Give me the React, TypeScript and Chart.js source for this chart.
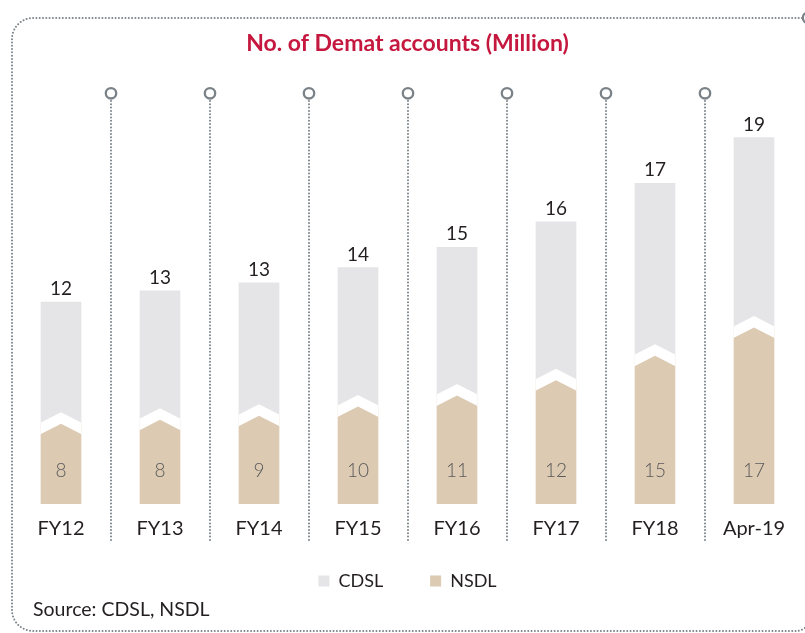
import React, { useEffect, useRef } from "react";
import { Chart, registerables } from "chart.js";

Chart.register(...registerables);

const categories = ["FY12", "FY13", "FY14", "FY15", "FY16", "FY17", "FY18", "Apr-19"];
const nsdlValues = [7.9, 8.3, 8.7, 9.6, 10.7, 12.2, 14.6, 17.4];
const cdslValues = [12.0, 12.7, 13.1, 13.7, 14.6, 15.6, 17.0, 18.7];
const seriesNames = ["NSDL", "CDSL"];
const titleText = "No. of Demat accounts (Million)";
const sourceText = "Source: CDSL, NSDL";

const FONT = "Lato, 'Open Sans', sans-serif";
const DOT_COLOR = "#7a8288";
const TEXT_COLOR = "#231f20";

function dotted(ctx: CanvasRenderingContext2D) {
  ctx.setLineDash([0, 3.3]);
  ctx.lineCap = "round";
  ctx.lineWidth = 2;
  ctx.strokeStyle = DOT_COLOR;
}

const decorPlugin = {
  id: "decor",
  beforeDatasetsDraw(chart: any) {
    const ctx: CanvasRenderingContext2D = chart.ctx;
    const xs = chart.scales.x;
    ctx.save();
    // outer dotted frame
    dotted(ctx);
    ctx.beginPath();
    ctx.moveTo(802, 18);
    ctx.lineTo(33, 18);
    ctx.arcTo(12, 18, 12, 40, 21);
    ctx.lineTo(12, 610);
    ctx.arcTo(12, 631, 33, 631, 21);
    ctx.lineTo(792, 631);
    ctx.arcTo(810, 631, 810, 612, 14);
    ctx.stroke();
    // separators
    for (let i = 0; i < categories.length - 1; i++) {
      const x = Math.round((xs.getPixelForValue(i) + xs.getPixelForValue(i + 1)) / 2);
      dotted(ctx);
      ctx.beginPath();
      ctx.moveTo(x, 101);
      ctx.lineTo(x, 540);
      ctx.stroke();
      ctx.setLineDash([]);
      ctx.lineWidth = 2.3;
      ctx.beginPath();
      ctx.arc(x, 93.3, 5.2, 0, Math.PI * 2);
      ctx.stroke();
    }
    ctx.setLineDash([]);
    ctx.lineWidth = 2.3;
    ctx.beginPath();
    ctx.arc(808, 17.8, 5.2, 0, Math.PI * 2);
    ctx.stroke();
    ctx.restore();
  },
  afterDatasetsDraw(chart: any) {
    const ctx: CanvasRenderingContext2D = chart.ctx;
    const nsdlMeta = chart.getDatasetMeta(0);
    const cdslMeta = chart.getDatasetMeta(1);
    ctx.save();
    nsdlMeta.data.forEach((el: any, i: number) => {
      const { x, y, width, base } = el.getProps(["x", "y", "width", "base"], true);
      const L = x - width / 2 - 0.5;
      const R = x + width / 2 + 0.5;
      ctx.fillStyle = "#ffffff";
      ctx.beginPath();
      ctx.moveTo(L, y - 1);
      ctx.lineTo(x, y - 11.5);
      ctx.lineTo(R, y - 1);
      ctx.lineTo(R, y + 10.5);
      ctx.lineTo(x, y);
      ctx.lineTo(L, y + 10.5);
      ctx.closePath();
      ctx.fill();
      // NSDL value inside
      ctx.font = `300 19px ${FONT}`;
      ctx.fillStyle = "#5a5a5a";
      ctx.textAlign = "center";
      ctx.textBaseline = "alphabetic";
      ctx.fillText(String(Math.round(nsdlValues[i])), x, base - 27);
    });
    cdslMeta.data.forEach((el: any, i: number) => {
      const { x, y } = el.getProps(["x", "y"], true);
      ctx.font = `19px ${FONT}`;
      ctx.fillStyle = TEXT_COLOR;
      ctx.textAlign = "center";
      ctx.textBaseline = "alphabetic";
      ctx.fillText(String(Math.round(cdslValues[i])), x, y - 7);
    });
    ctx.restore();
  },
  afterDraw(chart: any) {
    const ctx: CanvasRenderingContext2D = chart.ctx;
    ctx.save();
    ctx.font = `19.5px ${FONT}`;
    ctx.fillStyle = TEXT_COLOR;
    ctx.textAlign = "left";
    ctx.textBaseline = "alphabetic";
    ctx.fillText(sourceText, 33, 616);
    ctx.restore();
  },
};

export default function App() {
  const canvasRef = useRef<HTMLCanvasElement | null>(null);

  useEffect(() => {
    if (!canvasRef.current) return;
    const chart = new Chart(canvasRef.current, {
      type: "bar",
      data: {
        labels: categories,
        datasets: [
          {
            label: seriesNames[0],
            data: nsdlValues,
            backgroundColor: "#dccab3",
            borderWidth: 0,
            barThickness: 40,
          },
          {
            label: seriesNames[1],
            data: cdslValues,
            backgroundColor: "#e5e4e7",
            borderWidth: 0,
            barThickness: 40,
          },
        ],
      },
      options: {
        animation: false,
        responsive: false,
        events: [],
        layout: { padding: { top: 0, bottom: 33, left: 11.5, right: 1.5 } },
        scales: {
          x: {
            stacked: true,
            grid: { display: false, drawTicks: false },
            border: { display: false },
            ticks: {
              color: TEXT_COLOR,
              font: { family: FONT, size: 20 },
              mirror: true,
              padding: -36.8,
            },
            afterFit: (scale: any) => {
              scale.height = 21;
            },
          },
          y: {
            stacked: true,
            display: false,
            min: 0,
            max: 40,
          },
        },
        plugins: {
          tooltip: { enabled: false },
          title: {
            display: true,
            text: titleText,
            color: "#c5183f",
            font: { family: FONT, size: 23, weight: "bold" },
            padding: { top: 30, bottom: 40.4 },
          },
          legend: {
            position: "bottom",
            reverse: true,
            labels: {
              boxWidth: 11,
              boxHeight: 11,
              padding: 47,
              color: TEXT_COLOR,
              font: { family: FONT, size: 18 },
            },
          },
        },
      },
      plugins: [decorPlugin],
    } as any);
    return () => chart.destroy();
  }, []);

  return (
    <div style={{ position: "fixed", left: 0, top: 0, width: 805, height: 633, background: "#fff" }}>
      <canvas ref={canvasRef} width={805} height={633} style={{ display: "block" }} />
    </div>
  );
}
